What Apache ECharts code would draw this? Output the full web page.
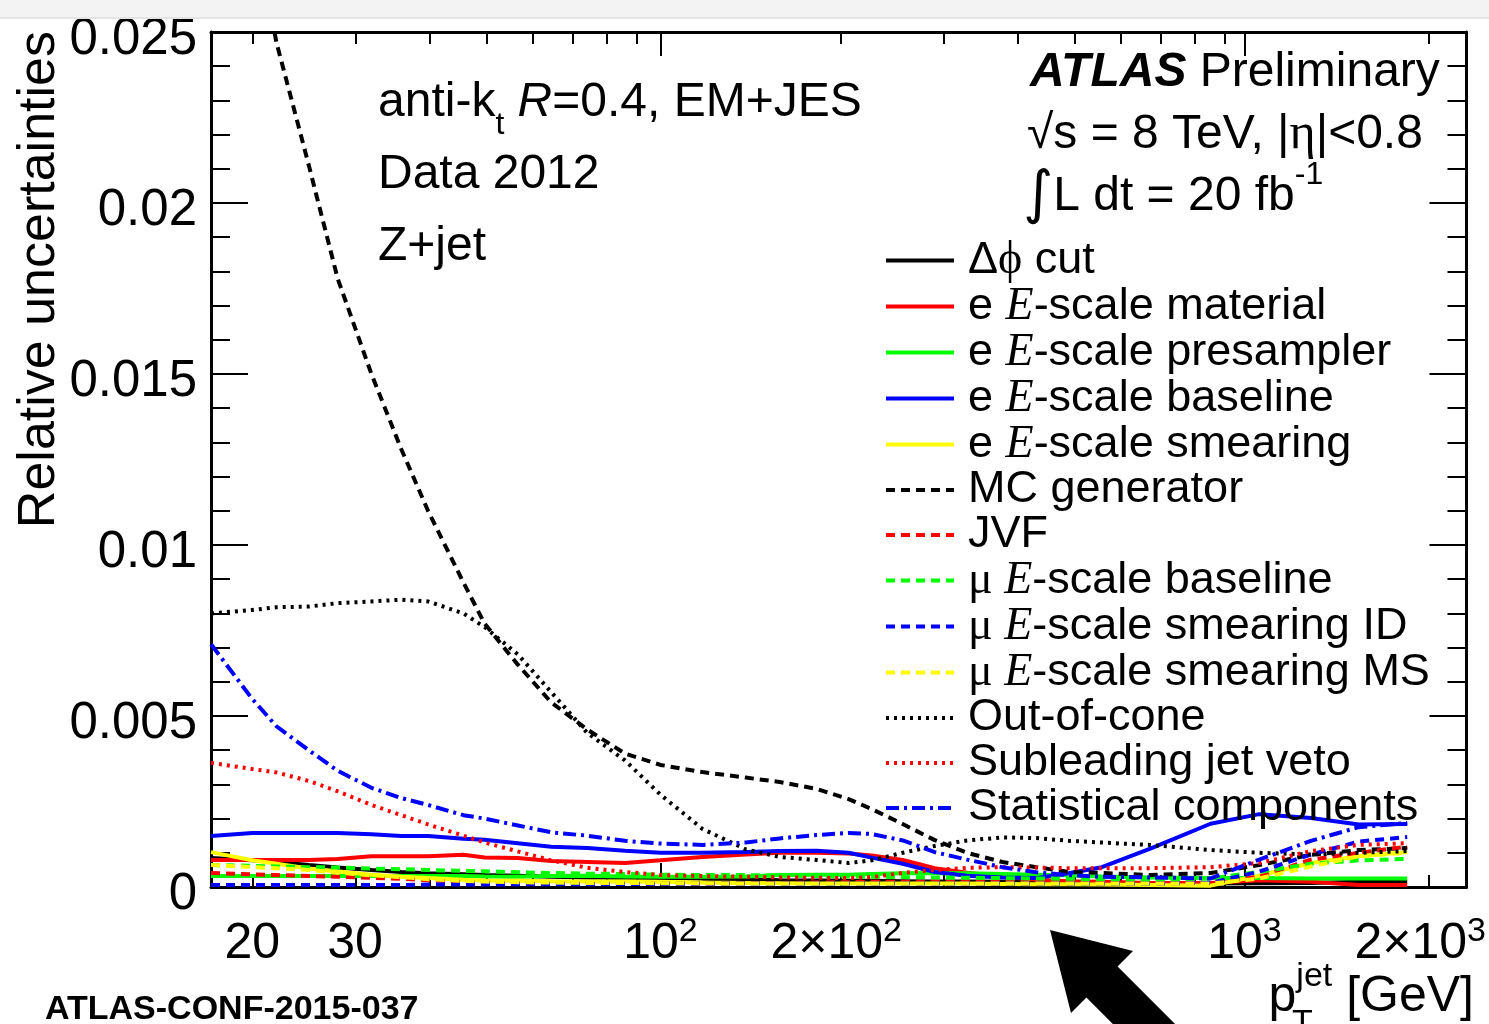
<!DOCTYPE html>
<html><head><meta charset="utf-8">
<script src="https://cdn.jsdelivr.net/npm/echarts@6/dist/echarts.min.js"></script>
<style>html,body{margin:0;padding:0;background:#fff}#c{width:1489px;height:1024px}</style>
</head><body><div id="c"></div>
<script>
// ---- data (pT grid in GeV, relative uncertainties) ----
const ptGrid = [17,20,22,25,28,32,36,40,46,50,57,65,75,87,100,118,140,160,185,210,230,260,295,335,385,440,500,570,690,875,1060,1300,1570,1900];
const dphiCut = [0.00085,0.00078,0.00073,0.00064,0.00057,0.00050,0.00044,0.00040,0.00037,0.00035,0.00033,0.00030,0.00028,0.00027,0.00026,0.00024,0.00022,0.00020,0.00019,0.00018,0.00018,0.00017,0.00016,0.00016,0.00015,0.00015,0.00014,0.00013,0.00011,0.00010,0.00011,0.00012,0.00015,0.00015];
const eMaterial = [0.00079,0.00079,0.00079,0.00079,0.00082,0.00090,0.00090,0.00090,0.00094,0.00086,0.00085,0.00076,0.00073,0.00070,0.00078,0.00088,0.00095,0.00100,0.00100,0.00098,0.00092,0.00079,0.00055,0.00042,0.00030,0.00021,0.00017,0.00015,0.00012,0.00012,0.00020,0.00015,0.00006,0.00006];
const ePresampler = [0.00032,0.00032,0.00032,0.00032,0.00032,0.00032,0.00032,0.00032,0.00032,0.00031,0.00030,0.00032,0.00033,0.00031,0.00030,0.00030,0.00031,0.00035,0.00036,0.00036,0.00038,0.00040,0.00041,0.00040,0.00038,0.00036,0.00034,0.00031,0.00028,0.00026,0.00026,0.00025,0.00025,0.00025];
const eBaseline = [0.00149,0.00158,0.00158,0.00158,0.00158,0.00154,0.00149,0.00149,0.00141,0.00138,0.00128,0.00118,0.00114,0.00106,0.00100,0.00100,0.00102,0.00105,0.00106,0.00100,0.00086,0.00068,0.00044,0.00033,0.00028,0.00026,0.00040,0.00058,0.00112,0.00185,0.00213,0.00202,0.00183,0.00184];
const eSmearing = [0.00102,0.00078,0.00068,0.00054,0.00045,0.00036,0.00030,0.00026,0.00021,0.00019,0.00018,0.00017,0.00016,0.00016,0.00015,0.00013,0.00012,0.00011,0.00010,0.00010,0.00010,0.00010,0.00010,0.00010,0.00009,0.00008,0.00008,0.00007,0.00006,0.00004,0.00033,0.00070,0.00090,0.00102];
const mcGenerator = [0.0340,0.0285,0.0247,0.0211,0.0178,0.0150,0.0128,0.0110,0.0089,0.0077,0.0065,0.0054,0.0046,0.0039,0.00357,0.00336,0.0032,0.00307,0.00287,0.00257,0.00228,0.00184,0.00137,0.0010,0.00073,0.00058,0.00044,0.00041,0.00035,0.00041,0.00064,0.00094,0.00108,0.00114];
const jvf = [0.00041,0.00037,0.00035,0.00032,0.00030,0.00027,0.00024,0.00020,0.00015,0.00013,0.00011,0.00010,0.00010,0.00010,0.00010,0.00010,0.00011,0.00012,0.00013,0.00014,0.00015,0.00015,0.00015,0.00015,0.00015,0.00015,0.00015,0.00015,0.00014,0.00012,0.00030,0.00080,0.00100,0.00118];
const muBaseline = [0.00064,0.00062,0.00060,0.00058,0.00057,0.00054,0.00052,0.00050,0.00047,0.00046,0.00043,0.00041,0.00039,0.00038,0.00036,0.00035,0.00035,0.00033,0.00032,0.00031,0.00030,0.00029,0.00028,0.00027,0.00026,0.00025,0.00024,0.00023,0.00021,0.00025,0.00044,0.00068,0.00078,0.00082];
const muSmearID = [0.00006,0.00006,0.00006,0.00006,0.00006,0.00006,0.00006,0.00007,0.00007,0.00007,0.00008,0.00008,0.00008,0.00009,0.00009,0.00010,0.00010,0.00010,0.00010,0.00010,0.00010,0.00010,0.00010,0.00010,0.00010,0.00010,0.00010,0.00010,0.00010,0.00012,0.00045,0.00095,0.00133,0.00146];
const muSmearMS = [0.00064,0.00058,0.00055,0.00050,0.00042,0.00034,0.00029,0.00023,0.00018,0.00016,0.00014,0.00013,0.00012,0.00012,0.00011,0.00011,0.00010,0.00010,0.00010,0.00010,0.00010,0.00010,0.00010,0.00010,0.00010,0.00010,0.00010,0.00010,0.00010,0.00010,0.00025,0.00060,0.00090,0.00100];
const outOfCone = [0.0080,0.0081,0.00818,0.0082,0.0083,0.00835,0.0084,0.00835,0.0080,0.0076,0.0068,0.0057,0.0045,0.0037,0.0027,0.0017,0.0011,0.00088,0.00079,0.00070,0.00078,0.0010,0.0012,0.00136,0.00145,0.00143,0.00135,0.0013,0.00123,0.00108,0.0010,0.00095,0.0010,0.00105];
const subleadVeto = [0.00363,0.00345,0.00335,0.0031,0.0028,0.0024,0.0021,0.00183,0.0015,0.0013,0.00104,0.00078,0.00056,0.00044,0.00035,0.00032,0.0003,0.00028,0.00027,0.00026,0.00029,0.00041,0.0005,0.00056,0.00058,0.00057,0.00055,0.00055,0.00055,0.00058,0.0007,0.00105,0.00123,0.00128];
const statistical = [0.0071,0.0055,0.0047,0.0040,0.0034,0.0029,0.0026,0.0024,0.0021,0.0020,0.0018,0.0016,0.0015,0.00135,0.00127,0.00123,0.0013,0.00142,0.00152,0.00158,0.00155,0.00136,0.00102,0.0008,0.00058,0.00043,0.00035,0.0003,0.00028,0.00025,0.0008,0.00135,0.00175,0.00187];

// ---- axes ----
const xMin = 17, xMax = 2400;
const xLabelValues = [20,30,100,200,1000,2000];
const xLabelTexts = ['{n|20}','{n|30}','{n|10}{s|2}','{n|2×10}{s|2}','{n|10}{s|3}','{n|2×10}{s|3}'];
const xMajorTicks = [100,1000];
const xMinorTicks = [20,30,40,50,60,70,80,90,200,300,400,500,600,700,800,900,2000];
const yTicks = [0,0.005,0.01,0.015,0.02,0.025];
const yTickLabels = ['0','0.005','0.01','0.015','0.02','0.025'];

const L = v => Math.log10(v);
const SANS = 'Liberation Sans';
const SERIF = 'Liberation Serif';

const seriesDefs = [
  {name:'Δϕ cut', data:dphiCut, color:'#000000', dash:'solid', label:'{n|Δ}{g|ϕ}{n| cut}'},
  {name:'e E-scale material', data:eMaterial, color:'#ff0000', dash:'solid', label:'{n|e }{i|E}{n|-scale material}'},
  {name:'e E-scale presampler', data:ePresampler, color:'#00ff00', dash:'solid', label:'{n|e }{i|E}{n|-scale presampler}'},
  {name:'e E-scale baseline', data:eBaseline, color:'#0000ff', dash:'solid', label:'{n|e }{i|E}{n|-scale baseline}'},
  {name:'e E-scale smearing', data:eSmearing, color:'#ffff00', dash:'solid', label:'{n|e }{i|E}{n|-scale smearing}'},
  {name:'MC generator', data:mcGenerator, color:'#000000', dash:[9,6], label:'{n|MC generator}'},
  {name:'JVF', data:jvf, color:'#ff0000', dash:[9,6], label:'{n|JVF}'},
  {name:'μ E-scale baseline', data:muBaseline, color:'#00ff00', dash:[9,6], label:'{g|μ }{i|E}{n|-scale baseline}'},
  {name:'μ E-scale smearing ID', data:muSmearID, color:'#0000ff', dash:[9,6], label:'{g|μ }{i|E}{n|-scale smearing ID}'},
  {name:'μ E-scale smearing MS', data:muSmearMS, color:'#ffff00', dash:[9,6], label:'{g|μ }{i|E}{n|-scale smearing MS}'},
  {name:'Out-of-cone', data:outOfCone, color:'#000000', dash:[3,5], label:'{n|Out-of-cone}'},
  {name:'Subleading jet veto', data:subleadVeto, color:'#ff0000', dash:[3,5], label:'{n|Subleading jet veto}'},
  {name:'Statistical components', data:statistical, color:'#0000ff', dash:[13,5,3,5], label:'{n|Statistical components}'}
];
const legendMap = {};
seriesDefs.forEach(s => legendMap[s.name] = s.label);

const LH = 43.1;
const tickStyle = {color:'#000', width:2};
const axisLineStyle = {color:'#000', width:3};
const X0 = L(xMin), X1 = L(xMax);

function xAxisDef(grid, pos, ticks, len, withLabel) {
  return {
    gridIndex: grid, type:'value', position: pos, min: X0, max: X1,
    axisLine: {show: grid === 0, onZero:false, lineStyle: axisLineStyle},
    axisTick: {show:true, inside:true, length: len, customValues: ticks.map(L), lineStyle: tickStyle},
    minorTick: {show:false},
    splitLine: {show:false},
    axisLabel: withLabel ? {
      show:true, customValues: xLabelValues.map(L), margin: 28,
      formatter: v => { const i = xLabelValues.findIndex(t => Math.abs(L(t) - v) < 1e-9); return i >= 0 ? xLabelTexts[i] : ''; },
      rich: {
        n: {fontFamily:SANS, fontSize:50, color:'#000', lineHeight:58},
        s: {fontFamily:SANS, fontSize:34, color:'#000', lineHeight:58, padding:[0,0,24,0]}
      }
    } : {show:false}
  };
}
function yAxisDef(grid, pos, withLabel) {
  return {
    gridIndex: grid, type:'value', position: pos, min:0, max:0.025, interval:0.005,
    show: grid === 0,
    axisLine: {show:true, onZero:false, lineStyle: axisLineStyle},
    axisTick: {show:true, inside:true, length:37, lineStyle: tickStyle},
    minorTick: {show:true, splitNumber:5, length:19, lineStyle: tickStyle},
    splitLine: {show:false},
    axisLabel: withLabel ? {
      show:true, margin:14,
      showMinLabel:true, showMaxLabel:true,
      formatter: v => { const i = yTicks.findIndex(t => Math.abs(t - v) < 1e-9); return i >= 0 ? '{y|' + yTickLabels[i] + '}' : ''; },
      rich: {y: {fontFamily:SANS, fontSize:51, color:'#000', padding:[16,0,0,0]}}
    } : {show:false}
  };
}

const gridRect = {left:211, top:32, width:1264, height:855};

const chart = echarts.init(document.getElementById('c'), null, {renderer:'canvas'});
chart.setOption({
  animation:false,
  backgroundColor:'#ffffff',
  grid:[Object.assign({containLabel:false}, gridRect), Object.assign({containLabel:false}, gridRect)],
  xAxis:[
    xAxisDef(0,'bottom',xMajorTicks,24,true),
    xAxisDef(0,'top',xMajorTicks,24,false),
    xAxisDef(1,'bottom',xMinorTicks,12,false),
    xAxisDef(1,'top',xMinorTicks,12,false)
  ],
  yAxis:[
    yAxisDef(0,'left',true),
    yAxisDef(0,'right',false),
    yAxisDef(1,'left',false)
  ],
  legend:{
    data: seriesDefs.map(s => s.name),
    orient:'vertical', left:884, top: 259 - LH/2, padding:0,
    itemGap:0, itemWidth:68, itemHeight:14, selectedMode:false,
    itemStyle:{opacity:0, borderWidth:0},
    lineStyle:{width:4},
    formatter: name => legendMap[name],
    textStyle:{
      padding:[0,0,0,9], color:'#000',
      rich:{
        n:{fontFamily:SANS, fontSize:45, color:'#000', lineHeight:LH},
        i:{fontFamily:SERIF, fontStyle:'italic', fontSize:46, color:'#000', lineHeight:LH},
        g:{fontFamily:SERIF + ', DejaVu Serif', fontSize:46, color:'#000', lineHeight:LH}
      }
    }
  },
  series: seriesDefs.map((s, k) => ({
    type:'line', name:s.name, xAxisIndex:0, yAxisIndex:0,
    data: ptGrid.map((p, i) => [L(p), s.data[i]]),
    symbol:'none', showSymbol:false, silent:true, clip:true, z: 2 + k * 0.01,
    lineStyle:{color:s.color, width:4, type:s.dash},
    itemStyle:{color:s.color}
  })),
  graphic:[
    {type:'rect', shape:{x:0, y:0, width:1489, height:18}, style:{fill:'#f3f3f3'}, z:100},
    {type:'rect', shape:{x:0, y:17, width:1489, height:2}, style:{fill:'#e4e4e4'}, z:100},
    {type:'text', x:378, y:103, z:100, style:{
      text:'{n|anti-k}{b|t}{n| }{it|R}{n|=0.4, EM+JES}', verticalAlign:'middle', align:'left',
      rich:{n:{fontFamily:SANS, fontSize:48, fill:'#000'}, it:{fontFamily:SANS, fontStyle:'italic', fontSize:48}, b:{fontFamily:SANS, fontSize:32, padding:[44,0,0,0]}}
    }},
    {type:'text', x:378, y:175, z:100, style:{text:'Data 2012', font:'48px "Liberation Sans"', fill:'#000', verticalAlign:'middle'}},
    {type:'text', x:378, y:247, z:100, style:{text:'Z+jet', font:'48px "Liberation Sans"', fill:'#000', verticalAlign:'middle'}},
    {type:'text', x:1030, y:73, z:100, style:{
      text:'{a|ATLAS}{n| Preliminary}', verticalAlign:'middle', align:'left',
      rich:{a:{fontFamily:SANS, fontWeight:'bold', fontStyle:'italic', fontSize:48}, n:{fontFamily:SANS, fontSize:48}}
    }},
    {type:'text', x:1027, y:135, z:100, style:{
      text:'{n|√s = 8 TeV, |}{g|η}{n||<0.8}', verticalAlign:'middle', align:'left',
      rich:{n:{fontFamily:SANS, fontSize:48}, g:{fontFamily:SERIF, fontSize:50}}
    }},
    {type:'text', x:1023, y:197, z:100, style:{
      text:'{int|∫}{n|L dt = 20 fb}{s|-1}', verticalAlign:'middle', align:'left',
      rich:{int:{fontFamily:'DejaVu Sans', fontSize:58}, n:{fontFamily:SANS, fontSize:48}, s:{fontFamily:SANS, fontSize:32, padding:[0,0,44,0]}}
    }},
    {type:'text', x:40, y:31, rotation:Math.PI/2, z:100, style:{
      text:'Relative uncertainties', font:'52px "Liberation Sans"', fill:'#000', align:'right', verticalAlign:'middle'
    }},
    {type:'text', x:1474, y:997, z:100, style:{
      text:'{n|p}{s|jet}{n| [GeV]}', align:'right', verticalAlign:'middle',
      rich:{n:{fontFamily:SANS, fontSize:50}, s:{fontFamily:SANS, fontSize:34, padding:[0,0,40,0]}}
    }},
    {type:'text', x:1292, y:1024, z:100, style:{text:'T', font:'34px "Liberation Sans"', fill:'#000', align:'left', verticalAlign:'middle'}},
    {type:'text', x:45, y:1010, z:100, style:{text:'ATLAS-CONF-2015-037', font:'bold 34px "Liberation Sans"', fill:'#000', align:'left', verticalAlign:'middle'}},
    {type:'polygon', z:100, shape:{points:[[1050,930],[1133,951],[1117.6,966.4],[1188,1037],[1157,1068],[1086.4,997.6],[1071,1013]]}, style:{fill:'#000'}}
  ]
});
</script>
</body></html>
